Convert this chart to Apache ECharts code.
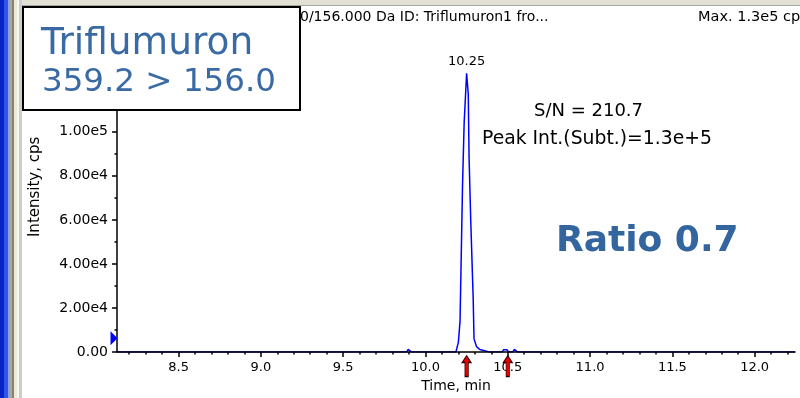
<!DOCTYPE html>
<html>
<head>
<meta charset="utf-8">
<style>
  html, body { margin: 0; padding: 0; background: #ffffff; }
  #chart { width: 800px; height: 398px; }
</style>
<script src="https://cdn.jsdelivr.net/npm/echarts@6/dist/echarts.min.js"></script>
</head>
<body>
<div id="chart"></div>
<script>
// XIC trace: retention time (min) and intensity (cps)
const times = [8.126, 9.885, 9.895, 9.905, 9.915, 10.185, 10.20, 10.21, 10.225, 10.235, 10.25, 10.26, 10.265, 10.275, 10.29, 10.295, 10.31, 10.33, 10.36, 10.39, 10.465, 10.475, 10.495, 10.505, 10.53, 10.54, 10.55, 10.56, 12.245];
const intensity = [0, 0, 1200, 1200, 0, 0, 4500, 14000, 75000, 104000, 126500, 117000, 88000, 60000, 24000, 6000, 2500, 1200, 600, 0, 0, 1100, 1100, 0, 0, 1200, 1200, 0, 0];

// x axis labels and tick positions
const xLabels = [8.5, 9.0, 9.5, 10.0, 10.5, 11.0, 11.5, 12.0];
const xMinor = [8.2, 8.3, 8.4, 8.6, 8.7, 8.8, 8.9, 9.1, 9.2, 9.3, 9.4, 9.6, 9.7, 9.8, 9.9,
                10.1, 10.2, 10.3, 10.4, 10.6, 10.7, 10.8, 10.9, 11.1, 11.2, 11.3, 11.4,
                11.6, 11.7, 11.8, 11.9, 12.1, 12.2];

// peak annotations
const peakTime = 10.25;
const peakIntensity = 126500;
const integrationMarks = [10.25, 10.50];
const thresholdLevel = 6300;

const xMin = 8.126, xMax = 12.245;
const yMax = 150000;

const FONT = 'DejaVu Sans';
const chart = echarts.init(document.getElementById('chart'), null, { renderer: 'canvas' });

const arrowPath = 'path://M4.5,0 L9,7 L6.2,7 L6.2,21 L2.8,21 L2.8,7 L0,7 Z';

chart.setOption({
  animation: false,
  backgroundColor: '#ffffff',
  grid: { left: 117, right: 5, top: 21.6, bottom: 44, containLabel: false },
  xAxis: [{
    type: 'value', min: xMin, max: xMax, z: 4,
    name: 'Time, min', nameLocation: 'middle', nameGap: 26,
    nameTextStyle: { fontFamily: FONT, fontSize: 14, color: '#000' },
    axisLine: { show: true, onZero: false, lineStyle: { color: '#000', width: 1.5 } },
    axisTick: { show: true, length: 5, customValues: xLabels, lineStyle: { color: '#000', width: 1.5 } },
    axisLabel: { show: true, customValues: xLabels, margin: 9, fontFamily: FONT, fontSize: 13, color: '#000',
      formatter: v => v.toFixed(1) },
    splitLine: { show: false }
  }, {
    type: 'value', min: xMin, max: xMax, position: 'bottom', z: 4,
    axisLine: { show: false },
    axisTick: { show: true, length: 2.5, customValues: xMinor, lineStyle: { color: '#000', width: 1.5 } },
    axisLabel: { show: false },
    splitLine: { show: false }
  }],
  yAxis: {
    type: 'value', min: 0, max: yMax, interval: 20000, z: 4,
    name: 'Intensity, cps', nameLocation: 'middle', nameGap: 74, nameRotate: 90,
    nameTextStyle: { fontFamily: FONT, fontSize: 15, color: '#000' },
    axisLine: { show: true, lineStyle: { color: '#000', width: 1.5 } },
    axisTick: { show: true, length: 5, lineStyle: { color: '#000', width: 1.5 } },
    minorTick: { show: true, splitNumber: 2, length: 2.5, lineStyle: { color: '#000', width: 1.5 } },
    axisLabel: { margin: 9, fontFamily: FONT, fontSize: 14, color: '#000',
      formatter: v => v === 0 ? '0.00' : v.toExponential(2).replace('+', '') },
    splitLine: { show: false }
  },
  series: [{
    type: 'line',
    data: times.map((t, i) => [t, intensity[i]]),
    showSymbol: false,
    lineStyle: { color: '#0000ff', width: 1.5 },
    z: 2,
    markPoint: {
      silent: true,
      z: 6,
      data: [
        { coord: [peakTime, peakIntensity], symbol: 'circle', symbolSize: 0,
          label: { show: true, position: 'top', distance: 5, formatter: '10.25',
            fontFamily: FONT, fontSize: 13, color: '#000' } },
        ...integrationMarks.map(t => ({
          coord: [t, 0], symbol: arrowPath, symbolSize: [9, 21], symbolOffset: [0, 14],
          itemStyle: { color: '#e60000', borderColor: '#300000', borderWidth: 1 },
          label: { show: false }
        })),
        { coord: [xMin, thresholdLevel], symbol: 'triangle', symbolSize: [14, 7],
          symbolRotate: -90, symbolOffset: [-3, 0],
          itemStyle: { color: '#0000ff' }, label: { show: false } }
      ]
    }
  }],
  graphic: [
    // window frame on the left and top
    { type: 'rect', shape: { x: 0, y: 0, width: 4, height: 398 }, style: { fill: '#0a22c4' }, z: 50 },
    { type: 'rect', shape: { x: 4, y: 0, width: 4, height: 398 }, style: { fill: '#2f56e4' }, z: 50 },
    { type: 'rect', shape: { x: 8, y: 0, width: 2, height: 398 }, style: { fill: '#8aa0ec' }, z: 50 },
    { type: 'rect', shape: { x: 10, y: 0, width: 2, height: 398 }, style: { fill: '#aca899' }, z: 50 },
    { type: 'rect', shape: { x: 12, y: 0, width: 2, height: 398 }, style: { fill: '#86826f' }, z: 50 },
    { type: 'rect', shape: { x: 14, y: 0, width: 3, height: 398 }, style: { fill: '#ece9d8' }, z: 50 },
    { type: 'rect', shape: { x: 17, y: 0, width: 2, height: 398 }, style: { fill: '#f7f7f2' }, z: 50 },
    { type: 'rect', shape: { x: 19, y: 0, width: 3, height: 398 }, style: { fill: '#cdcdcd' }, z: 50 },
    { type: 'rect', shape: { x: 22, y: 0, width: 778, height: 5 }, style: { fill: '#e2dfd4' }, z: 50 },
    { type: 'rect', shape: { x: 22, y: 5, width: 778, height: 1 }, style: { fill: '#a8a8a8' }, z: 50 },
    // header line
    { type: 'text', left: 300, top: 10, z: 40,
      style: { text: '0/156.000 Da ID: Triflumuron1 fro...', fontFamily: FONT, fontSize: 14, fill: '#000' } },
    { type: 'text', x: 698, y: 10, z: 40,
      style: { text: 'Max. 1.3e5 cps', fontFamily: FONT, fontSize: 14.5, fill: '#000' } },
    // compound box
    { type: 'rect', shape: { x: 23, y: 7, width: 277, height: 103 },
      style: { fill: '#ffffff', stroke: '#000000', lineWidth: 2 }, z: 60 },
    { type: 'text', x: 41, y: 44, z: 61,
      style: { text: 'Triflumuron', fontFamily: FONT, fontSize: 37.5, fill: '#3a6aa3', verticalAlign: 'middle' } },
    { type: 'text', x: 42, y: 83, z: 61,
      style: { text: '359.2 > 156.0', fontFamily: FONT, fontSize: 32.5, fill: '#3a6aa3', verticalAlign: 'middle' } },
    // peak statistics
    { type: 'text', x: 534, y: 111, z: 40,
      style: { text: 'S/N = 210.7', fontFamily: FONT, fontSize: 18, fill: '#000', verticalAlign: 'middle' } },
    { type: 'text', x: 482, y: 139, z: 40,
      style: { text: 'Peak Int.(Subt.)=1.3e+5', fontFamily: FONT, fontSize: 18.8, fill: '#000', verticalAlign: 'middle' } },
    { type: 'text', x: 556, y: 242, z: 40,
      style: { text: 'Ratio 0.7', fontFamily: FONT, fontSize: 36, fontWeight: 'bold', fill: '#33659e', verticalAlign: 'middle' } }
  ]
});
</script>
</body>
</html>
